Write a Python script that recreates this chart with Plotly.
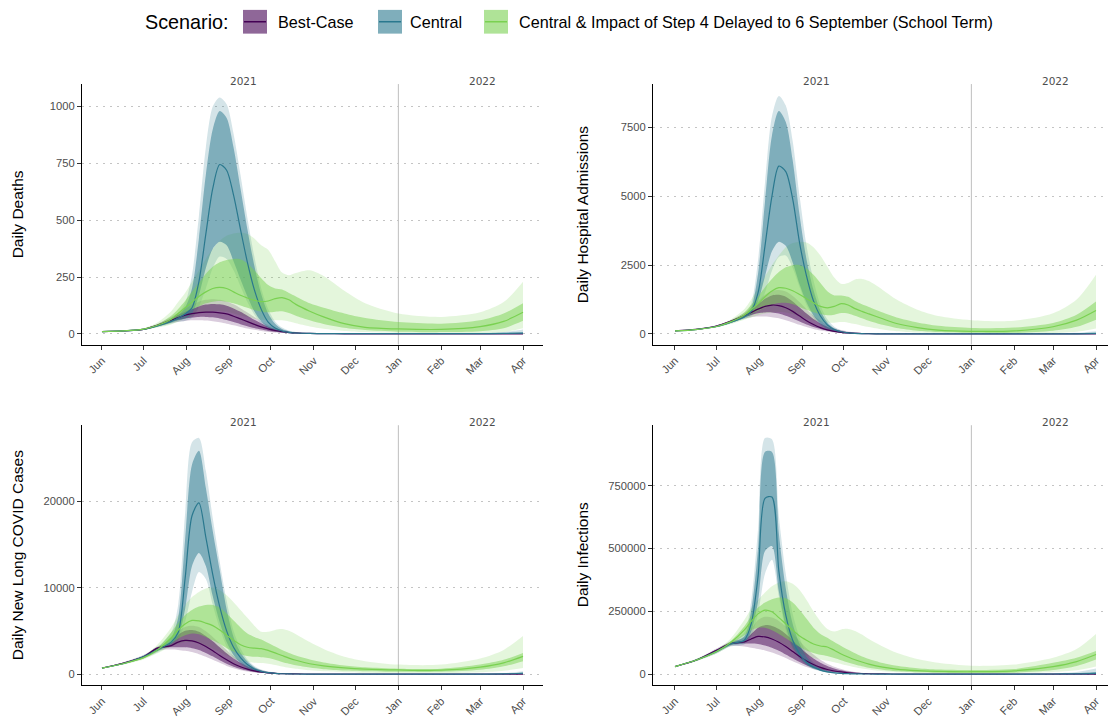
import plotly.graph_objects as go

# ---------------------------------------------------------------------------
# Data: model projections, England, June 2021 - April 2022
# each series: 5th / 25th / median / 75th / 95th percentile trajectories
# ---------------------------------------------------------------------------
DATES = ["2021-06-01", "2021-06-16", "2021-07-01", "2021-07-11", "2021-07-21", "2021-07-26",
         "2021-07-31", "2021-08-05", "2021-08-10", "2021-08-15", "2021-08-20", "2021-08-25",
         "2021-08-30", "2021-09-04", "2021-09-09", "2021-09-14", "2021-09-19", "2021-09-24",
         "2021-09-29", "2021-10-04", "2021-10-09", "2021-10-14", "2021-10-19", "2021-10-29",
         "2021-11-08", "2021-11-23", "2021-12-08", "2022-01-01", "2022-02-01", "2022-03-01",
         "2022-03-18", "2022-04-01"]

MONTH_TICKS = ["2021-06-01", "2021-07-01", "2021-08-01", "2021-09-01", "2021-10-01", "2021-11-01",
               "2021-12-01", "2022-01-01", "2022-02-01", "2022-03-01", "2022-04-01"]
MONTH_LABELS = ["Jun", "Jul", "Aug", "Sep", "Oct", "Nov", "Dec", "Jan", "Feb", "Mar", "Apr"]
YEAR_LABELS = ["2021", "2022"]

SCENARIOS = ["Best-Case", "Central",
             "Central & Impact of Step 4 Delayed to 6 September (School Term)"]
METRICS = ["Daily Deaths", "Daily Hospital Admissions",
           "Daily New Long COVID Cases", "Daily Infections"]

Y_TICKS_DEATHS = [0, 250, 500, 750, 1000]
Y_TICKS_ADMISSIONS = [0, 2500, 5000, 7500]
Y_TICKS_LONGCOVID = [0, 10000, 20000]
Y_TICKS_INFECTIONS = [0, 250000, 500000, 750000]

# --- Daily deaths ----------------------------------------------------------
deaths_best_lo90 = [8, 11, 17, 32, 48, 54, 57, 60, 60, 59, 56, 51, 45, 38, 31, 24,
                    18, 13, 9, 6, 4, 2.5, 1.5, 0.8, 0.4, 0.2, 0.1, 0.1, 0.1, 0.1, 0.1, 0.1]
deaths_best_lo50 = [9, 12, 18, 35, 54, 62, 68, 72, 75, 75, 73, 68, 61, 52, 43, 34,
                    26, 19, 13, 9, 6, 4, 2.5, 1.2, 0.6, 0.3, 0.2, 0.2, 0.2, 0.2, 0.2, 0.2]
deaths_best_med = [10, 13, 20, 38, 60, 72, 82, 89, 94, 96, 96, 93, 88, 78, 66, 54,
                   42, 31, 22, 15, 10, 6, 4, 2, 1, 0.5, 0.3, 0.3, 0.3, 0.3, 0.3, 0.3]
deaths_best_hi50 = [11, 14, 22, 41, 68, 84, 98, 110, 121, 129, 132, 130, 124, 112, 97, 80,
                    62, 46, 32, 22, 14, 9, 6, 3, 1.5, 0.7, 0.5, 0.5, 0.5, 0.5, 0.5, 0.5]
deaths_best_hi90 = [12, 15, 24, 44, 74, 93, 110, 128, 142, 150, 153, 150, 143, 130, 113, 94,
                    74, 55, 39, 27, 18, 11, 7, 3.5, 1.8, 0.9, 0.6, 0.5, 0.5, 0.5, 0.5, 0.5]

deaths_central_lo90 = [8, 11, 18, 30, 45, 52, 58, 70, 120, 200, 290, 340, 330, 280, 210, 140,
                       85, 45, 22, 11, 6, 3, 2, 1, 0.3, 0.2, 0.1, 0.1, 0.1, 0.1, 0.2, 0.3]
deaths_central_lo50 = [9, 12, 19, 33, 50, 60, 68, 90, 170, 290, 375, 405, 390, 320, 240, 165,
                       100, 55, 28, 14, 8, 4, 2, 1, 0.5, 0.3, 0.2, 0.2, 0.2, 0.3, 0.5, 1]
deaths_central_med = [10, 13, 20, 35, 55, 70, 88, 115, 230, 440, 640, 745, 720, 610, 460, 315,
                      195, 108, 52, 26, 13, 7, 4, 2, 1, 1, 1, 1, 1, 1, 2, 3]
deaths_central_hi50 = [11, 14, 22, 38, 62, 82, 115, 200, 420, 700, 900, 980, 950, 820, 640, 460,
                       300, 175, 90, 45, 22, 12, 7, 3, 2, 1, 1, 1, 1, 2, 4, 8]
deaths_central_hi90 = [12, 15, 24, 42, 68, 92, 135, 260, 520, 820, 1000, 1040, 1010, 880, 700, 510,
                       340, 200, 110, 55, 28, 15, 9, 4, 2, 1, 1, 1, 2, 4, 8, 20]

deaths_school_lo90 = [8, 11, 18, 28, 42, 55, 68, 80, 90, 96, 100, 100, 97, 90, 82, 74,
                      67, 62, 60, 60, 60, 55, 47, 33, 23, 13, 8, 4, 3, 4, 8, 25]
deaths_school_lo50 = [9, 12, 19, 32, 52, 72, 90, 108, 122, 135, 142, 145, 142, 135, 125, 115,
                      105, 98, 95, 98, 100, 92, 80, 60, 44, 27, 17, 10, 8, 12, 25, 58]
deaths_school_med = [10, 13, 21, 38, 65, 90, 115, 140, 165, 185, 200, 205, 200, 185, 170, 158,
                     148, 142, 145, 155, 160, 150, 130, 100, 75, 45, 29, 22, 20, 32, 55, 95]
deaths_school_hi50 = [11, 14, 23, 42, 80, 110, 145, 185, 225, 265, 295, 315, 325, 330, 328, 310,
                      280, 245, 215, 200, 195, 180, 165, 135, 115, 90, 70, 52, 45, 60, 90, 135]
deaths_school_hi90 = [12, 15, 25, 50, 100, 140, 180, 230, 280, 330, 375, 410, 432, 442, 445, 440,
                      420, 390, 370, 320, 270, 258, 268, 280, 255, 190, 135, 90, 75, 95, 140, 230]

# --- Daily hospital admissions ---------------------------------------------
admissions_best_lo90 = [100, 145, 260, 400, 560, 610, 630, 630, 610, 570, 500, 420, 330, 250, 180, 125,
                        85, 55, 34, 20, 12, 7, 4, 2, 1, 0.5, 0.2, 0.2, 0.2, 0.2, 0.2, 0.2]
admissions_best_lo50 = [105, 155, 275, 430, 610, 690, 750, 780, 780, 740, 660, 560, 450, 340, 250, 175,
                        115, 75, 47, 28, 17, 10, 6, 3, 1.5, 0.7, 0.3, 0.3, 0.3, 0.3, 0.3, 0.3]
admissions_best_med = [110, 165, 290, 460, 660, 780, 900, 1000, 1050, 1030, 950, 820, 650, 480, 340, 230,
                       150, 95, 60, 35, 22, 14, 9, 4, 2, 1, 0.5, 0.5, 0.5, 0.5, 0.5, 0.5]
admissions_best_hi50 = [115, 175, 305, 480, 710, 880, 1080, 1280, 1400, 1420, 1350, 1180, 960, 740, 540, 380,
                        260, 170, 110, 70, 45, 28, 18, 8, 4, 2, 1, 1, 1, 1, 1, 1]
admissions_best_hi90 = [120, 185, 320, 500, 760, 960, 1200, 1420, 1560, 1600, 1540, 1380, 1150, 900, 670, 480,
                        330, 220, 140, 90, 58, 37, 24, 10, 5, 2, 1, 1, 1, 1, 1, 1]

admissions_central_lo90 = [100, 140, 240, 380, 540, 650, 900, 1500, 2300, 2800, 2850, 2400, 1700, 1050, 600, 320,
                           160, 80, 40, 20, 10, 5, 3, 1, 0.5, 0.3, 0.3, 0.3, 0.3, 0.5, 1, 2]
admissions_central_lo50 = [105, 150, 255, 400, 580, 720, 1200, 2100, 3000, 3350, 3200, 2600, 1800, 1150, 680, 370,
                           190, 95, 47, 23, 12, 6, 4, 2, 1, 0.5, 0.5, 0.5, 0.5, 1, 2, 5]
admissions_central_med = [110, 160, 270, 420, 620, 820, 1500, 3200, 5000, 6100, 5900, 4900, 3300, 2100, 1200, 650,
                          330, 160, 80, 40, 20, 10, 6, 3, 2, 1, 1, 1, 1, 2, 5, 15]
admissions_central_hi50 = [115, 170, 285, 445, 660, 950, 2200, 4800, 7200, 8100, 7700, 6300, 4300, 2700, 1600, 850,
                           420, 200, 95, 45, 22, 12, 7, 3, 2, 1, 1, 2, 3, 8, 20, 50]
admissions_central_hi90 = [120, 180, 300, 470, 700, 1100, 2700, 5500, 7900, 8650, 8300, 7000, 5000, 3200, 1950, 1050,
                           530, 260, 125, 60, 30, 16, 9, 4, 2, 1, 1, 2, 5, 15, 40, 100]

admissions_school_lo90 = [100, 140, 240, 360, 520, 600, 680, 740, 780, 800, 780, 720, 640, 560, 490, 440,
                          410, 410, 430, 410, 360, 300, 250, 160, 100, 50, 25, 12, 12, 35, 80, 200]
admissions_school_lo50 = [105, 150, 255, 400, 600, 720, 840, 960, 1060, 1120, 1130, 1080, 980, 880, 790, 720,
                          680, 700, 760, 740, 660, 570, 480, 330, 220, 120, 70, 40, 40, 120, 260, 520]
admissions_school_med = [110, 160, 270, 440, 680, 880, 1100, 1350, 1560, 1680, 1660, 1570, 1430, 1280, 1130, 1000,
                         950, 1000, 1100, 1050, 920, 820, 730, 550, 380, 230, 140, 95, 110, 260, 500, 850]
admissions_school_hi50 = [115, 170, 285, 480, 780, 1050, 1350, 1700, 2000, 2250, 2420, 2500, 2500, 2380, 2150, 1850,
                          1550, 1400, 1400, 1350, 1200, 1080, 980, 780, 600, 420, 300, 220, 230, 400, 700, 1180]
admissions_school_hi90 = [120, 180, 300, 520, 900, 1250, 1650, 2100, 2500, 2850, 3150, 3300, 3350, 3320, 3150, 2850,
                          2450, 2050, 1820, 1850, 1980, 2000, 1920, 1600, 1250, 880, 650, 500, 480, 750, 1250, 2150]

# --- Daily new long COVID cases --------------------------------------------
longcovid_best_lo90 = [660, 1150, 1800, 2750, 2850, 2800, 2700, 2550, 2300, 2000, 1650, 1300, 950, 680, 460, 300,
                       190, 118, 72, 43, 26, 15, 9, 3, 1, 0.3, 0.3, 0.3, 0.3, 0.3, 0.3, 0.3]
longcovid_best_lo50 = [680, 1200, 1900, 2900, 3100, 3100, 3100, 3000, 2800, 2450, 2050, 1600, 1200, 850, 580, 390,
                       250, 155, 95, 57, 34, 20, 12, 4, 1.5, 0.5, 0.5, 0.5, 0.5, 0.5, 0.5, 0.5]
longcovid_best_med = [700, 1250, 2000, 3000, 3300, 3700, 3900, 3850, 3600, 3200, 2700, 2150, 1650, 1200, 850, 580,
                      380, 240, 150, 90, 55, 33, 20, 8, 3, 1, 1, 1, 1, 1, 1, 1]
longcovid_best_hi50 = [720, 1300, 2100, 3100, 3600, 4500, 5000, 5100, 4900, 4400, 3800, 3100, 2400, 1800, 1300, 900,
                       600, 390, 250, 160, 100, 62, 38, 15, 6, 2, 1, 1, 1, 1, 1, 1]
longcovid_best_hi90 = [740, 1350, 2200, 3200, 3800, 4900, 5450, 5600, 5450, 4950, 4300, 3550, 2800, 2100, 1550, 1080,
                       730, 480, 310, 195, 122, 76, 47, 18, 7, 3, 1, 1, 1, 1, 1, 1]

longcovid_central_lo90 = [660, 1100, 1800, 2500, 3300, 3900, 6000, 9500, 11800, 11000, 8000, 5300, 3200, 1900, 1100, 600,
                          320, 165, 82, 40, 20, 10, 5, 2, 1, 0.5, 0.3, 0.3, 0.5, 1, 3, 15]
longcovid_central_lo50 = [680, 1150, 1900, 2650, 3500, 4300, 7500, 12500, 14000, 12500, 9000, 6000, 3700, 2200, 1300, 720,
                          390, 200, 100, 50, 25, 12, 6, 2, 1, 0.5, 0.5, 0.5, 1, 2, 8, 40]
longcovid_central_med = [700, 1200, 2000, 2800, 3700, 4800, 11000, 18300, 19800, 15800, 11500, 7800, 5000, 3100, 1900, 1100,
                         600, 320, 170, 85, 42, 21, 11, 4, 2, 1, 1, 1, 2, 5, 20, 100]
longcovid_central_hi50 = [720, 1250, 2100, 2950, 4200, 6500, 15500, 24200, 25800, 21500, 16500, 12000, 7500, 4300, 2500, 1450,
                          800, 430, 230, 115, 58, 29, 15, 6, 3, 2, 2, 3, 6, 15, 50, 200]
longcovid_central_hi90 = [740, 1300, 2200, 3100, 4800, 8000, 18500, 26800, 27300, 23500, 18000, 13000, 8500, 5000, 3000, 1700,
                          950, 520, 280, 140, 70, 35, 18, 7, 4, 3, 3, 5, 12, 35, 110, 320]

longcovid_school_lo90 = [660, 1100, 1700, 2400, 3200, 3500, 3700, 3700, 3550, 3300, 2950, 2550, 2150, 1800, 1550, 1400,
                         1320, 1280, 1200, 1050, 880, 740, 620, 440, 320, 220, 160, 120, 120, 220, 400, 700]
longcovid_school_lo50 = [680, 1150, 1800, 2600, 3600, 4100, 4500, 4700, 4600, 4300, 3900, 3500, 3000, 2600, 2300, 2100,
                         2000, 1950, 1850, 1650, 1400, 1200, 1020, 750, 570, 420, 330, 270, 270, 500, 900, 1500]
longcovid_school_med = [700, 1200, 1900, 2800, 4200, 5100, 5800, 6200, 6150, 5900, 5600, 5100, 4500, 3900, 3400, 3100,
                        3000, 2950, 2750, 2450, 2150, 1850, 1600, 1200, 950, 720, 580, 480, 450, 800, 1300, 2050]
longcovid_school_hi50 = [720, 1250, 2000, 3000, 4800, 5900, 6800, 7400, 7800, 8000, 8000, 7700, 7000, 6200, 5400, 4700,
                         4300, 4000, 3600, 3200, 2800, 2450, 2150, 1700, 1350, 1000, 780, 620, 620, 1100, 1650, 2450]
longcovid_school_hi90 = [740, 1300, 2100, 3400, 5400, 6800, 8000, 8900, 9500, 9900, 10000, 9700, 9100, 8300, 7400, 6500,
                         5600, 4900, 4900, 5100, 5200, 5000, 4600, 3700, 2900, 2000, 1500, 1100, 1100, 1800, 2800, 4400]

# --- Daily infections ------------------------------------------------------
infections_best_lo90 = [28000, 51000, 88000, 112000, 110000, 105000, 100000, 94000, 86000, 76000, 64000, 51000,
                        39000, 28000, 20000, 13500, 9000, 6000, 4000, 2500, 1600, 1000, 600, 200,
                        80, 30, 15, 10, 10, 10, 10, 10]
infections_best_lo50 = [29000, 53000, 92000, 118000, 122000, 122000, 120000, 114000, 105000, 93000, 78000, 63000,
                        48000, 35000, 25000, 17000, 11500, 7500, 5000, 3200, 2000, 1300, 800, 300,
                        120, 50, 25, 15, 15, 15, 15, 15]
infections_best_med = [30000, 55000, 95000, 122000, 128000, 140000, 150000, 148000, 140000, 127000, 110000, 90000,
                       70000, 52000, 38000, 27000, 18500, 12500, 8500, 5500, 3500, 2300, 1500, 600,
                       250, 100, 50, 30, 30, 30, 30, 30]
infections_best_hi50 = [31000, 57000, 98000, 125000, 135000, 160000, 185000, 195000, 192000, 180000, 160000, 135000,
                        108000, 83000, 62000, 45000, 32000, 22000, 15000, 10000, 6500, 4200, 2700, 1100,
                        450, 180, 80, 50, 50, 50, 50, 50]
infections_best_hi90 = [32000, 59000, 102000, 130000, 145000, 180000, 215000, 228000, 225000, 212000, 190000, 162000,
                        132000, 103000, 78000, 57000, 41000, 29000, 20000, 13000, 8500, 5500, 3500, 1400,
                        600, 250, 120, 80, 80, 80, 80, 80]

infections_central_lo90 = [28000, 51000, 82000, 110000, 118000, 150000, 240000, 400000, 455000, 310000, 175000, 102000,
                           60000, 34000, 19000, 11000, 6000, 3500, 2000, 1100, 700, 400, 250, 120,
                           60, 40, 40, 40, 60, 120, 300, 700]
infections_central_lo50 = [29000, 53000, 86000, 115000, 125000, 170000, 290000, 490000, 510000, 330000, 190000, 112000,
                           66000, 38000, 22000, 13000, 7000, 4000, 2300, 1300, 800, 500, 300, 150,
                           80, 60, 60, 60, 100, 250, 600, 1500]
infections_central_med = [30000, 55000, 90000, 120000, 135000, 200000, 390000, 700000, 705000, 410000, 235000, 135000,
                          80000, 46000, 27000, 16000, 9000, 5000, 3000, 1700, 1000, 600, 400, 200,
                          100, 80, 80, 100, 200, 500, 1200, 3000]
infections_central_hi50 = [31000, 57000, 94000, 125000, 150000, 250000, 500000, 885000, 885000, 560000, 340000, 200000,
                           120000, 68000, 38000, 21000, 12000, 7000, 4000, 2300, 1300, 800, 500, 250,
                           150, 120, 120, 150, 400, 1200, 3000, 8000]
infections_central_hi90 = [32000, 59000, 98000, 130000, 165000, 290000, 580000, 940000, 935000, 630000, 400000, 240000,
                           145000, 82000, 46000, 26000, 15000, 8500, 5000, 3000, 1800, 1000, 600, 300,
                           200, 150, 150, 300, 800, 2500, 8000, 22000]

infections_school_lo90 = [28000, 51000, 82000, 112000, 140000, 150000, 155000, 152000, 143000, 130000, 115000, 99000,
                          85000, 73000, 64000, 58000, 53000, 47000, 40000, 33000, 27000, 22000, 18000, 11000,
                          7000, 4000, 2800, 2200, 3000, 8000, 15000, 30000]
infections_school_lo50 = [29000, 53000, 86000, 118000, 155000, 175000, 185000, 185000, 175000, 160000, 143000, 125000,
                          108000, 94000, 84000, 77000, 72000, 64000, 55000, 46000, 38000, 31000, 25000, 17000,
                          11000, 7000, 5000, 4000, 5500, 16000, 32000, 58000]
infections_school_med = [30000, 55000, 90000, 125000, 175000, 210000, 240000, 255000, 248000, 225000, 200000, 175000,
                         152000, 135000, 120000, 112000, 108000, 95000, 80000, 68000, 57000, 48000, 40000, 28000,
                         20000, 14000, 11000, 9500, 13000, 30000, 50000, 78000]
infections_school_hi50 = [31000, 57000, 94000, 130000, 190000, 230000, 265000, 285000, 298000, 305000, 302000, 285000,
                          255000, 220000, 185000, 160000, 145000, 128000, 112000, 97000, 83000, 70000, 60000, 44000,
                          33000, 23000, 18000, 16000, 20000, 45000, 65000, 92000]
infections_school_hi90 = [32000, 59000, 98000, 140000, 215000, 260000, 295000, 325000, 350000, 365000, 370000, 360000,
                          335000, 295000, 250000, 210000, 180000, 170000, 178000, 180000, 172000, 158000, 140000, 110000,
                          85000, 60000, 45000, 33000, 38000, 65000, 100000, 160000]

# ---------------------------------------------------------------------------
# Figure setup
# ---------------------------------------------------------------------------
W, H = 1108, 718
FONT = "Liberation Sans, Arial, Helvetica, sans-serif"
COLOURS = ["#440154", "#2A788E", "#7AD151"]
OUTER_ALPHA = 0.2
INNER_ALPHA = 0.5


def rgba(hex_colour, alpha):
    h = hex_colour.lstrip("#")
    r, g, b = int(h[0:2], 16), int(h[2:4], 16), int(h[4:6], 16)
    return f"rgba({r},{g},{b},{alpha})"


def px_x(x):
    return x / W


def px_y(y):
    return (H - y) / H


panels = [
    dict(metric=METRICS[0], ticks=Y_TICKS_DEATHS, yrange=[-47, 1099],
         box=(82, 543, 85, 348.5), xrange=["2021-05-17 14:00", "2022-04-15 10:00"],
         title_x=17,
         series=[(deaths_best_lo90, deaths_best_lo50, deaths_best_med, deaths_best_hi50, deaths_best_hi90),
                 (deaths_central_lo90, deaths_central_lo50, deaths_central_med, deaths_central_hi50, deaths_central_hi90),
                 (deaths_school_lo90, deaths_school_lo50, deaths_school_med, deaths_school_hi50, deaths_school_hi90)]),
    dict(metric=METRICS[1], ticks=Y_TICKS_ADMISSIONS, yrange=[-388, 9080],
         box=(653, 1108, 85, 348.5), xrange=["2021-05-16 03:00", "2022-04-09 16:00"],
         title_x=582,
         series=[(admissions_best_lo90, admissions_best_lo50, admissions_best_med, admissions_best_hi50, admissions_best_hi90),
                 (admissions_central_lo90, admissions_central_lo50, admissions_central_med, admissions_central_hi50, admissions_central_hi90),
                 (admissions_school_lo90, admissions_school_lo50, admissions_school_med, admissions_school_hi50, admissions_school_hi90)]),
    dict(metric=METRICS[2], ticks=Y_TICKS_LONGCOVID, yrange=[-1291, 28766],
         box=(82, 543, 430, 693), xrange=["2021-05-17 14:00", "2022-04-15 10:00"],
         title_x=17,
         series=[(longcovid_best_lo90, longcovid_best_lo50, longcovid_best_med, longcovid_best_hi50, longcovid_best_hi90),
                 (longcovid_central_lo90, longcovid_central_lo50, longcovid_central_med, longcovid_central_hi50, longcovid_central_hi90),
                 (longcovid_school_lo90, longcovid_school_lo50, longcovid_school_med, longcovid_school_hi50, longcovid_school_hi90)]),
    dict(metric=METRICS[3], ticks=Y_TICKS_INFECTIONS, yrange=[-44500, 991300],
         box=(653, 1108, 430, 693), xrange=["2021-05-16 03:00", "2022-04-09 16:00"],
         title_x=582,
         series=[(infections_best_lo90, infections_best_lo50, infections_best_med, infections_best_hi50, infections_best_hi90),
                 (infections_central_lo90, infections_central_lo50, infections_central_med, infections_central_hi50, infections_central_hi90),
                 (infections_school_lo90, infections_school_lo50, infections_school_med, infections_school_hi50, infections_school_hi90)]),
]

for p in panels:
    for s in p["series"]:
        for arr in s:
            assert len(arr) == len(DATES)

fig = go.Figure()
layout = dict(
    width=W, height=H,
    margin=dict(l=0, r=0, t=0, b=0),
    paper_bgcolor="white", plot_bgcolor="white",
    showlegend=False,
    font=dict(family=FONT, color="#4d4d4d"),
)
shapes = []
annotations = []
tick_font = dict(family=FONT, size=11.2, color="#4d4d4d")

for i, p in enumerate(panels, start=1):
    sfx = "" if i == 1 else str(i)
    xa, ya = "x" + sfx, "y" + sfx
    x0, x1, y0, y1 = p["box"]

    def band(lo, hi, colour, alpha):
        fig.add_trace(go.Scatter(x=DATES, y=lo, mode="lines", line=dict(width=0, shape="spline", smoothing=0.8),
                                 xaxis=xa, yaxis=ya, hoverinfo="skip", showlegend=False))
        fig.add_trace(go.Scatter(x=DATES, y=hi, mode="lines", line=dict(width=0, shape="spline", smoothing=0.8),
                                 fill="tonexty", fillcolor=rgba(colour, alpha),
                                 xaxis=xa, yaxis=ya, hoverinfo="skip", showlegend=False))

    # 90% bands, then 50% bands, then medians (scenario order within each layer)
    for (lo90, lo50, med, hi50, hi90), colour in zip(p["series"], COLOURS):
        band(lo90, hi90, colour, OUTER_ALPHA)
    for (lo90, lo50, med, hi50, hi90), colour in zip(p["series"], COLOURS):
        band(lo50, hi50, colour, INNER_ALPHA)
    for (lo90, lo50, med, hi50, hi90), colour, name in zip(p["series"], COLOURS, SCENARIOS):
        fig.add_trace(go.Scatter(x=DATES, y=med, mode="lines", name=name,
                                 line=dict(color=colour, width=1.2, shape="spline", smoothing=0.8),
                                 xaxis=xa, yaxis=ya, showlegend=False))

    layout["xaxis" + sfx] = dict(
        domain=[px_x(x0), px_x(x1)], range=p["xrange"], anchor=ya, type="date",
        tickmode="array", tickvals=MONTH_TICKS, ticktext=MONTH_LABELS, tickangle=-45,
        ticks="outside", ticklen=4, tickwidth=1, tickcolor="#333333",
        showline=True, linecolor="black", linewidth=1.2, showgrid=False, zeroline=False,
        tickfont=tick_font, fixedrange=True,
    )
    layout["yaxis" + sfx] = dict(
        domain=[px_y(y1), px_y(y0)], range=p["yrange"], anchor=xa,
        tickmode="array", tickvals=p["ticks"], ticktext=[str(v) for v in p["ticks"]],
        ticks="outside", ticklen=4, tickwidth=1, tickcolor="#333333",
        showline=True, linecolor="black", linewidth=1.2,
        showgrid=True, gridcolor="#c4c4c4", gridwidth=1, griddash="2px,5px", zeroline=False,
        tickfont=tick_font, fixedrange=True,
    )

    # year boundary
    shapes.append(dict(type="line", xref=xa, yref=ya + " domain", x0="2022-01-01", x1="2022-01-01",
                       y0=0, y1=1, line=dict(color="#bfbfbf", width=1), layer="below"))

    # year labels above the panel
    for label, xd in zip(YEAR_LABELS, ["2021-09-11", "2022-03-03"]):
        annotations.append(dict(text=label, x=xd, y=1, xref=xa, yref=ya + " domain",
                                xanchor="center", yanchor="bottom", yshift=-5, showarrow=False,
                                font=dict(family="DejaVu Sans, sans-serif", size=10.5, color="#4d4d4d")))

    # axis title
    annotations.append(dict(text=p["metric"], x=px_x(p["title_x"]), y=px_y((y0 + y1) / 2),
                            xref="paper", yref="paper", xanchor="center", yanchor="middle",
                            textangle=-90, showarrow=False,
                            font=dict(family=FONT, size=15.5, color="black")))

# ---------------------------------------------------------------------------
# Legend (drawn at the top, centred)
# ---------------------------------------------------------------------------
LEG_Y = 22
annotations.append(dict(text="Scenario:", x=px_x(143), y=px_y(LEG_Y), xref="paper", yref="paper",
                        xanchor="left", yanchor="middle", showarrow=False,
                        font=dict(family=FONT, size=19.8, color="black")))
key_left = [243, 378, 484]
text_left = [276, 408, 517]
for name, colour, kx, tx in zip(SCENARIOS, COLOURS, key_left, text_left):
    shapes.append(dict(type="rect", xref="paper", yref="paper",
                       x0=px_x(kx), x1=px_x(kx + 24), y0=px_y(LEG_Y + 12), y1=px_y(LEG_Y - 12),
                       fillcolor=rgba(colour, 0.6), line=dict(width=0)))
    shapes.append(dict(type="line", xref="paper", yref="paper",
                       x0=px_x(kx + 1), x1=px_x(kx + 23), y0=px_y(LEG_Y), y1=px_y(LEG_Y),
                       line=dict(color=colour, width=1.5)))
    annotations.append(dict(text=name, x=px_x(tx), y=px_y(LEG_Y), xref="paper", yref="paper",
                            xanchor="left", yanchor="middle", showarrow=False,
                            font=dict(family=FONT, size=16.2, color="black")))

layout["shapes"] = shapes
layout["annotations"] = annotations
fig.update_layout(**layout)

fig.write_html("out.html")
